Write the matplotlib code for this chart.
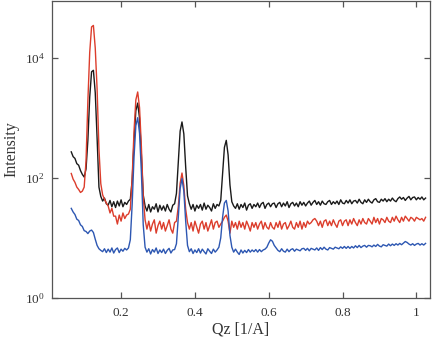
import numpy as np
import matplotlib
matplotlib.use("Agg")
import matplotlib.pyplot as plt
from matplotlib.ticker import FixedLocator, FixedFormatter, NullLocator

plt.rcParams['font.family'] = ['Liberation Serif', 'DejaVu Serif']
plt.rcParams['mathtext.fontset'] = 'custom'
plt.rcParams['mathtext.rm'] = 'Liberation Serif'
plt.rcParams['mathtext.it'] = 'Liberation Serif:italic'

# Qz sample grid (start, step)
qz_start = 0.065
qz_step = 0.005

black = [
    270, 225, 210, 172, 162, 132, 114, 103, 140, 420,
    2200, 5800, 6150, 2600, 460, 70, 49, 41, 46, 37,
    35, 42, 33, 40, 32, 41, 34, 43, 33, 39,
    36, 41, 44, 90, 405, 1310, 1750, 980, 240, 52,
    34, 28, 36, 27, 33, 30, 37, 27, 35, 29,
    34, 28, 36, 30, 27, 35, 37, 55, 185, 597,
    850, 538, 152, 50, 37, 30, 36, 28, 35, 31,
    36, 29, 38, 30, 35, 32, 28, 37, 31, 36,
    34, 42, 117, 321, 420, 239, 76, 40, 34, 31,
    37, 30, 36, 32, 38, 29, 35, 37, 31, 36,
    33, 38, 32, 37, 39, 31, 36, 38, 33, 37,
    38, 32, 37, 39, 33, 38, 34, 40, 32, 37,
    39, 34, 38, 33, 40, 35, 39, 34, 38, 41,
    35, 39, 42, 36, 40, 35, 41, 37, 36, 40,
    42, 36, 40, 37, 41, 36, 43, 38, 37, 42,
    38, 43, 37, 41, 42, 38, 44, 39, 37, 43,
    39, 44, 40, 38, 43, 45, 40, 39, 44, 41,
    45, 40, 44, 41, 46, 42, 40, 45, 48, 44,
    47, 42, 46, 49, 43, 47, 48, 43, 47, 44,
    48, 43, 46]

red = [
    118, 95, 84, 70, 64, 57, 60, 70, 190, 1900,
    12200, 32400, 34300, 14400, 3000, 300, 80, 52, 44, 38,
    34, 26, 31, 23, 23, 17, 24, 19, 26, 21,
    24, 25, 30, 100, 590, 1980, 2680, 1470, 330, 48,
    20, 14, 19, 13, 17, 20, 12, 16, 19, 14,
    18, 13, 16, 20, 14, 12, 18, 19, 33, 81,
    120, 74, 30, 18, 14, 18, 13, 19, 15, 12,
    17, 19, 14, 18, 13, 16, 20, 14, 18, 19,
    15, 17, 19, 22, 24, 19, 12, 19, 15, 18,
    14, 19, 15, 18, 14, 19, 16, 13, 18, 15,
    18, 14, 17, 19, 14, 18, 15, 14, 18, 15,
    14, 18, 15, 19, 14, 17, 18, 14, 16, 19,
    15, 14, 18, 15, 19, 14, 18, 15, 19, 17,
    18, 20, 21, 19, 16, 19, 15, 19, 20, 16,
    19, 16, 20, 17, 15, 19, 20, 16, 19, 20,
    16, 20, 17, 21, 18, 16, 20, 17, 21, 18,
    17, 21, 19, 17, 22, 18, 21, 17, 21, 20,
    18, 22, 19, 18, 22, 19, 23, 20, 18, 22,
    19, 23, 21, 19, 22, 21, 19, 22, 21, 20,
    21, 19, 22]

blue = [
    31, 27, 24.5, 20.5, 19.5, 16.5, 15.5, 13.2, 12.8, 11.8,
    13, 13.5, 12.3, 9.5, 7.5, 6.6, 6.2, 5.9, 6.6, 5.7,
    6.5, 5.8, 6.8, 5.6, 6.4, 6.8, 5.7, 6.5, 6.0, 6.7,
    6.3, 6.8, 9.3, 36, 217, 737, 1000, 549, 123, 16.5,
    7.0, 5.8, 6.6, 5.4, 6.4, 5.8, 6.8, 5.5, 6.3, 5.7,
    6.5, 5.5, 6.2, 6.7, 5.6, 6.3, 6.4, 8, 22, 66,
    97, 60, 19, 7.5, 5.9, 6.6, 5.5, 6.3, 5.7, 6.6,
    5.6, 6.5, 5.9, 5.4, 6.6, 6.0, 5.5, 6.5, 5.8, 6.3,
    7, 10, 22, 38, 42, 28, 11, 7, 5.8, 6.5,
    5.8, 5.3, 6.3, 5.6, 6.2, 5.7, 6.4, 5.8, 6.3, 5.9,
    6.4, 5.8, 6.4, 5.9, 6.3, 6.5, 7.0, 8.2, 9.3, 8.8,
    7.5, 6.8, 6.2, 5.9, 6.6, 6.0, 5.8, 6.5, 5.9, 6.4,
    6.6, 6.0, 6.5, 6.3, 6.1, 6.6, 6.7, 6.2, 6.7, 6.1,
    6.7, 6.5, 6.3, 6.8, 6.2, 6.9, 6.4, 7.0, 6.5, 6.3,
    6.9, 6.7, 6.5, 7.0, 6.8, 6.6, 7.1, 6.7, 7.2, 6.7,
    7.2, 6.7, 7.2, 6.8, 7.4, 6.9, 7.5, 6.9, 7.3, 7.5,
    7.0, 7.5, 7.4, 7.1, 7.6, 7.2, 7.8, 7.3, 7.1, 7.7,
    7.5, 7.3, 7.9, 7.4, 7.9, 7.5, 8.0, 7.6, 8.1, 7.7,
    8.2, 8.7, 8.4, 7.9, 7.6, 8.0, 7.5, 7.9, 8.1, 7.6,
    8.0, 7.6, 8.1]

x_ticks = [0.2, 0.4, 0.6, 0.8, 1.0]
x_ticklabels = ["0.2", "0.4", "0.6", "0.8", "1"]
y_ticks = [1, 100, 10000]
y_ticklabels = [r"$10^{0}$", r"$10^{2}$", r"$10^{4}$"]

n = min(len(black), len(red), len(blue))
qz = qz_start + qz_step * np.arange(n)

fig = plt.figure(figsize=(4.32, 3.44), dpi=100)
ax = fig.add_axes([51.7 / 432, 46 / 344, (430 - 51.7) / 432, 297.5 / 344])

ax.plot(qz, black[:n], color='#1a1a1a', lw=1.0)
ax.plot(qz, red[:n], color='#dc3d2c', lw=1.0)
ax.plot(qz, blue[:n], color='#2d57b2', lw=1.0)

ax.set_yscale('log')
ax.set_xlim(0.012, 1.037)
ax.set_ylim(1, 10 ** 4.95)

ax.xaxis.set_major_locator(FixedLocator(x_ticks))
ax.xaxis.set_major_formatter(FixedFormatter(x_ticklabels))
ax.yaxis.set_major_locator(FixedLocator(y_ticks))
ax.yaxis.set_major_formatter(FixedFormatter(y_ticklabels))
ax.xaxis.set_minor_locator(NullLocator())
ax.yaxis.set_minor_locator(NullLocator())

spine_col = '#555555'
for s in ax.spines.values():
    s.set_color(spine_col)
    s.set_linewidth(0.9)
ax.tick_params(axis='both', which='major', direction='in', top=True, right=True,
               length=4, width=0.9, color=spine_col, labelsize=9.5,
               labelcolor='#333333')
ax.tick_params(axis='x', pad=6.5)
ax.tick_params(axis='y', pad=5)

ax.set_xlabel("Qz [1/A]", fontsize=11.5, color='#333333', labelpad=2)
ax.set_ylabel("Intensity", fontsize=11.5, color='#333333', labelpad=4)

fig.savefig("out.png", dpi=100)
